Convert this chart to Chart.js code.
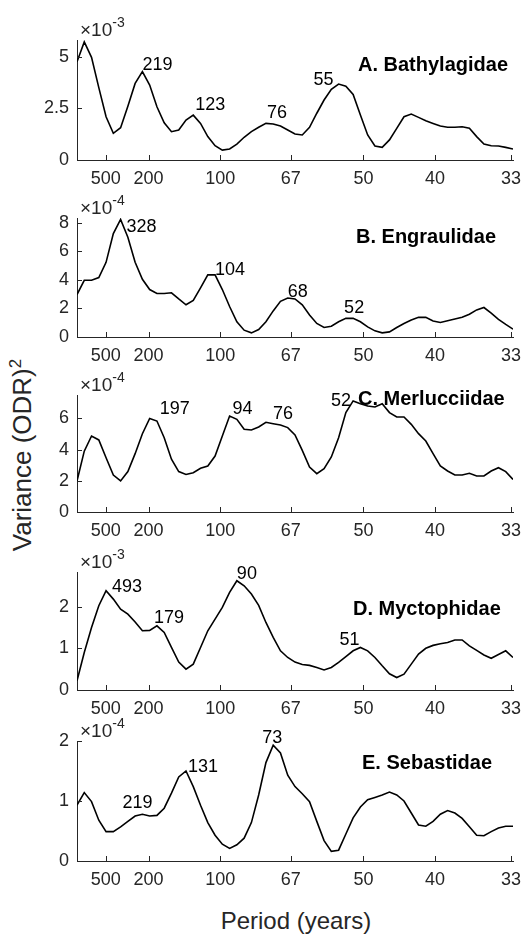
<!DOCTYPE html>
<html>
<head>
<meta charset="utf-8">
<script src="https://cdn.jsdelivr.net/npm/chart.js@4.4.1/dist/chart.umd.min.js"></script>
<style>
  body { margin: 0; background: #fff; width: 530px; height: 936px; position: relative; overflow: hidden;
         font-family: "Liberation Sans", Arial, Helvetica, sans-serif; }
  canvas { position: absolute; left: 0; }
  #ylab { position: absolute; left: 22px; top: 455px; transform: translate(-50%, -50%) rotate(-90deg);
          font-size: 26px; white-space: nowrap; color: #262626; }
  #ylab sup { font-size: 17px; }
  #xlab { position: absolute; left: 296px; top: 921px; transform: translate(-50%, -50%);
          font-size: 24px; white-space: nowrap; color: #262626; }
</style>
</head>
<body>
<div id="ylab">Variance (ODR)<sup>2</sup></div>
<div id="xlab">Period (years)</div>
<script>
// spectra sampled every 1/1971 cycles per year, x axis labelled by period
const recordYears = 1971;
const periodTicks = [500, 200, 100, 67, 50, 40, 33];

// variance per family, in units of 10^exponent
const bathylagidae = [4.75, 5.71, 4.96, 3.5, 2.09, 1.29, 1.56, 2.6, 3.7, 4.27, 3.62, 2.57, 1.8, 1.37, 1.45, 1.93,
  2.17, 1.77, 1.13, 0.69, 0.48, 0.53, 0.77, 1.1, 1.37, 1.58, 1.77, 1.74, 1.64, 1.45, 1.26, 1.21, 1.58, 2.26, 2.9,
  3.42, 3.67, 3.57, 3.17, 2.17, 1.21, 0.68, 0.61, 0.97, 1.53, 2.09, 2.22, 2.06, 1.9, 1.77, 1.64, 1.58, 1.58, 1.61,
  1.53, 1.13, 0.77, 0.69, 0.68, 0.61, 0.53];
const engraulidae = [2.98, 3.98, 3.98, 4.17, 5.24, 7.26, 8.25, 7.0, 5.24, 4.05, 3.33, 3.05, 3.05, 3.1, 2.67, 2.26,
  2.57, 3.45, 4.36, 4.36, 3.33, 2.14, 1.07, 0.48, 0.29, 0.52, 1.07, 1.83, 2.5, 2.74, 2.67, 2.26, 1.55, 0.95, 0.67,
  0.76, 1.07, 1.31, 1.31, 1.07, 0.71, 0.43, 0.29, 0.36, 0.67, 0.95, 1.19, 1.38, 1.38, 1.12, 1.02, 1.14, 1.26, 1.38,
  1.6, 1.9, 2.07, 1.67, 1.24, 0.88, 0.55];
const merlucciidae = [1.99, 3.9, 4.87, 4.62, 3.48, 2.37, 1.99, 2.59, 3.74, 5.02, 6.0, 5.83, 4.76, 3.38, 2.59, 2.41,
  2.52, 2.8, 2.95, 3.59, 4.87, 6.15, 5.94, 5.3, 5.26, 5.45, 5.75, 5.66, 5.58, 5.41, 4.94, 3.95, 2.88, 2.46, 2.78,
  3.53, 4.76, 6.37, 7.12, 6.94, 6.79, 6.73, 6.94, 6.37, 6.09, 6.09, 5.62, 5.02, 4.55, 3.74, 2.95, 2.63, 2.37, 2.37,
  2.48, 2.31, 2.31, 2.63, 2.84, 2.59, 2.08];
const myctophidae = [0.22, 0.9, 1.5, 2.02, 2.38, 2.18, 1.94, 1.82, 1.63, 1.42, 1.43, 1.54, 1.38, 1.02, 0.67, 0.5,
  0.62, 1.02, 1.42, 1.7, 1.98, 2.34, 2.62, 2.5, 2.3, 2.03, 1.62, 1.26, 0.94, 0.78, 0.67, 0.61, 0.59, 0.54, 0.48,
  0.54, 0.66, 0.8, 0.94, 1.02, 0.94, 0.78, 0.58, 0.39, 0.3, 0.38, 0.62, 0.86, 1.0, 1.07, 1.11, 1.14, 1.2, 1.2,
  1.06, 0.95, 0.84, 0.76, 0.85, 0.94, 0.78];
const sebastidae = [0.93, 1.14, 0.99, 0.68, 0.49, 0.49, 0.57, 0.66, 0.75, 0.78, 0.75, 0.76, 0.88, 1.13, 1.4, 1.5,
  1.24, 0.93, 0.64, 0.43, 0.28, 0.21, 0.27, 0.38, 0.64, 1.1, 1.64, 1.93, 1.8, 1.43, 1.24, 1.12, 0.99, 0.66, 0.34,
  0.16, 0.18, 0.45, 0.72, 0.9, 1.02, 1.06, 1.1, 1.15, 1.1, 1.0, 0.8, 0.6, 0.58, 0.66, 0.78, 0.84, 0.8, 0.71, 0.57,
  0.43, 0.42, 0.49, 0.55, 0.58, 0.58];

// labelled peak periods (years)
const peaksA = [219, 123, 76, 55];
const peaksB = [328, 104, 68, 52];
const peaksC = [197, 94, 76, 52];
const peaksD = [493, 179, 90, 51];
const peaksE = [219, 131, 73];

const yTicksA = [0, 2.5, 5];
const yTicksB = [0, 2, 4, 6, 8];
const yTicksC = [0, 2, 4, 6];
const yTicksD = [0, 1, 2];
const yTicksE = [0, 1, 2];

const freqs = bathylagidae.map((_, i) => i / recordYears);

const family = '"Liberation Sans", Arial, Helvetica, sans-serif';
const axisColor = '#262626';

const panels = [
  { name: 'A. Bathylagidae', values: bathylagidae, peaks: peaksA, yTicks: yTicksA, exp: -3,
    top: 40, bottom: 160, yMax: 5.8, titleX: 358, titleDy: 25,
    peakStyle: [['left', 0, -2], ['left', 2, -5], ['left', 1, -5], ['right', -5, 1]] },
  { name: 'B. Engraulidae', values: engraulidae, peaks: peaksB, yTicks: yTicksB, exp: -4,
    top: 218, bottom: 337, yMax: 8.35, titleX: 356, titleDy: 19,
    peakStyle: [['left', 6, 13], ['left', 0, 0], ['left', 0, -1], ['center', 1, -5]] },
  { name: 'C. Merlucciidae', values: merlucciidae, peaks: peaksC, yTicks: yTicksC, exp: -4,
    top: 395, bottom: 512, yMax: 7.5, titleX: 358, titleDy: 4,
    peakStyle: [['left', 10, -4], ['left', 3, -2], ['left', 7, -3], ['right', -2, 5]] },
  { name: 'D. Myctophidae', values: myctophidae, peaks: peaksD, yTicks: yTicksD, exp: -3,
    top: 572, bottom: 690, yMax: 2.83, titleX: 353, titleDy: 37,
    peakStyle: [['left', 6, 1], ['left', -3, -3], ['left', 0, -2], ['right', -1, -2]] },
  { name: 'E. Sebastidae', values: sebastidae, peaks: peaksE, yTicks: yTicksE, exp: -4,
    top: 741, bottom: 861, yMax: 2, titleX: 362, titleDy: 22,
    peakStyle: [['center', -5, -6], ['left', 2, 1], ['center', -1, -2]] }
];

function makePanel(p) {
  const padTop = 32, padBottom = 36;
  const canvas = document.createElement('canvas');
  canvas.width = 530;
  canvas.height = p.bottom - p.top + padTop + padBottom;
  canvas.style.top = (p.top - padTop) + 'px';
  document.body.appendChild(canvas);

  const decor = {
    id: 'decor',
    afterDraw(chart) {
      const { ctx, chartArea: a, scales: { x, y } } = chart;
      ctx.save();
      // inward ticks, matlab style
      ctx.strokeStyle = axisColor;
      ctx.lineWidth = 1;
      ctx.beginPath();
      x.ticks.forEach(t => {
        const px = Math.round(x.getPixelForValue(t.value)) + 0.5;
        ctx.moveTo(px, a.bottom);
        ctx.lineTo(px, a.bottom - 5);
      });
      y.ticks.forEach(t => {
        const py = Math.round(y.getPixelForValue(t.value)) + 0.5;
        ctx.moveTo(a.left, py);
        ctx.lineTo(a.left + 5, py);
      });
      ctx.stroke();

      // exponent
      ctx.fillStyle = axisColor;
      ctx.textAlign = 'left';
      ctx.textBaseline = 'alphabetic';
      ctx.font = '19px ' + family;
      const base = '\u00d710';
      ctx.fillText(base, a.left + 3, a.top - 4);
      const w = ctx.measureText(base).width;
      ctx.font = '14px ' + family;
      ctx.fillText(String(p.exp), a.left + 3 + w, a.top - 13);

      // panel title
      ctx.fillStyle = '#000';
      ctx.font = 'bold 20px ' + family;
      ctx.textBaseline = 'middle';
      ctx.fillText(p.name, p.titleX, a.top + p.titleDy);

      // peak labels
      ctx.font = '18px ' + family;
      ctx.textBaseline = 'alphabetic';
      p.peaks.forEach((period, k) => {
        const i = Math.round(recordYears / period);
        const s = p.peakStyle[k];
        ctx.textAlign = s[0];
        ctx.fillText(String(period), x.getPixelForValue(freqs[i]) + s[1], y.getPixelForValue(p.values[i]) + s[2]);
      });
      ctx.restore();
    }
  };

  new Chart(canvas, {
    type: 'line',
    data: {
      datasets: [{
        data: p.values.map((v, i) => ({ x: freqs[i], y: v })),
        borderColor: '#000',
        borderWidth: 1.6,
        pointRadius: 0,
        tension: 0,
        fill: false
      }]
    },
    options: {
      responsive: false,
      animation: false,
      events: [],
      layout: { padding: { top: padTop, right: 17, left: 0, bottom: 0 } },
      plugins: { legend: { display: false }, tooltip: { enabled: false } },
      scales: {
        x: {
          type: 'linear',
          min: 0,
          max: freqs[freqs.length - 1],
          grid: { display: false, drawTicks: false },
          border: { color: axisColor, width: 1 },
          afterBuildTicks: s => { s.ticks = periodTicks.map(t => ({ value: 1 / t })); },
          afterFit: s => { s.height = padBottom; },
          ticks: {
            autoSkip: false, maxRotation: 0, padding: 8, color: axisColor,
            font: { size: 18, family: family },
            callback: (v, i) => String(periodTicks[i])
          }
        },
        y: {
          min: 0,
          max: p.yMax,
          grid: { display: false, drawTicks: false },
          border: { color: axisColor, width: 1 },
          afterBuildTicks: s => { s.ticks = p.yTicks.map(v => ({ value: v })); },
          afterFit: s => { s.width = 77; },
          ticks: {
            padding: 8, color: axisColor,
            font: { size: 18, family: family },
            callback: v => String(v)
          }
        }
      }
    },
    plugins: [decor]
  });
}

panels.forEach(makePanel);
</script>
</body>
</html>
